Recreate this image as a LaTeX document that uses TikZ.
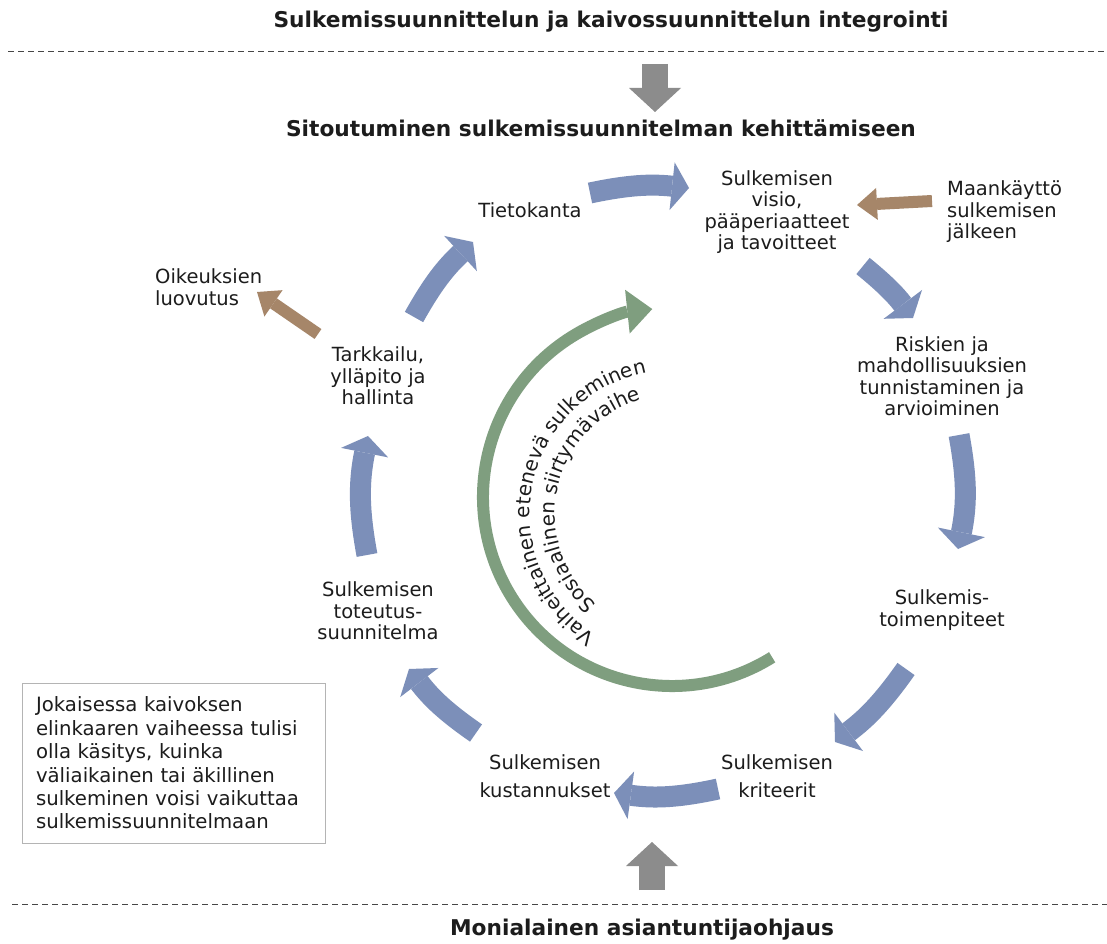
\documentclass[tikz,border=0pt]{standalone}
\usepackage{fontspec}
\setmainfont{DejaVu Sans}
\usetikzlibrary{arrows.meta,decorations.text}

\definecolor{txt}{RGB}{28,28,28}
\definecolor{cycblue}{RGB}{124,143,185}
\definecolor{sidebrown}{RGB}{166,134,105}
\definecolor{phasegreen}{RGB}{127,158,127}
\definecolor{feedgray}{RGB}{140,140,140}
\definecolor{boxgray}{RGB}{180,180,180}
\definecolor{sepgray}{RGB}{70,70,70}

\newcommand\lblfont{\fontsize{19.5}{21.5}\selectfont}
\newcommand\lblwide{\fontsize{19.5}{28.5}\selectfont}
\newcommand\notefont{\fontsize{19.7}{23.4}\selectfont}
\newcommand\hdfont{\fontsize{21.7}{26}\selectfont\bfseries}
\newcommand\arcfont{\fontsize{20}{24}\selectfont}

\begin{document}
\begin{tikzpicture}[x=1pt,y=1pt,
    lbl/.style={align=center, font=\lblfont, text=txt, inner sep=0pt},
    hd/.style={font=\hdfont, text=txt, inner sep=0pt},
    blk/.style={draw=cycblue, line width=21pt, -{Triangle[length=17pt,width=48pt,line width=0pt]}},
    side/.style={draw=sidebrown, line width=12pt, -{Triangle[length=20pt,width=32pt,line width=0pt]}},
    feed/.style={draw=feedgray, line width=26pt, -{Triangle[length=24pt,width=52pt,line width=0pt]}},
    phase/.style={draw=phasegreen, line width=12pt, -{Triangle[length=25pt,width=44pt,line width=0pt]}},
    sepline/.style={draw=sepgray, line width=1pt, dash pattern=on 6pt off 4pt},
    notebox/.style={draw=boxgray, line width=1pt, align=left, font=\notefont, text=txt,
        minimum width=303pt, minimum height=160pt, text width=275pt, inner sep=0pt}]

    \fill[white] (0,0) rectangle (1107,943);
    \useasboundingbox (0,0) rectangle (1107,943);

    % headings and dividers
    \node[hd] (integ) at (611,921) {Sulkemissuunnittelun ja kaivossuunnittelun integrointi};
    \node[hd] (sitout) at (601,815) {Sitoutuminen sulkemissuunnitelman kehittämiseen};
    \node[hd] (monial) at (642,13) {Monialainen asiantuntijaohjaus};
    \draw[sepline] (8,891) -- (1107,891);
    \draw[sepline] (12,39) -- (1107,39);

    % cycle
    \node[lbl] (tieto) at (530,733) {Tietokanta};
    \node[lbl] (visio) at (777,731) {Sulkemisen\\visio,\\pääperiaatteet\\ja tavoitteet};
    \node[lbl, align=left, anchor=west] (maank) at (947,731) {Maankäyttö\\sulkemisen\\jälkeen};
    \node[lbl] (riskit) at (942,567) {Riskien ja\\mahdollisuuksien\\tunnistaminen ja\\arvioiminen};
    \node[lbl] (toimen) at (942,333) {Sulkemis-\\toimenpiteet};
    \node[lbl, font=\lblwide] (krit) at (777,167) {Sulkemisen\\kriteerit};
    \node[lbl, font=\lblwide] (kust) at (545,167) {Sulkemisen\\kustannukset};
    \node[lbl] (toteut) at (378,332) {Sulkemisen\\toteutus-\\suunnitelma};
    \node[lbl] (tark) at (378,567) {Tarkkailu,\\ylläpito ja\\hallinta};
    \node[lbl, align=left, anchor=west] (oikeus) at (155,656) {Oikeuksien\\luovutus};

    \node[notebox] (note) at (173.5,180) {Jokaisessa kaivoksen\\elinkaaren vaiheessa tulisi\\olla käsitys, kuinka\\väliaikainen tai äkillinen\\sulkeminen voisi vaikuttaa\\sulkemissuunnitelmaan};

    % arrow ends
    \coordinate (tieto-o) at (590,750);
    \coordinate (visio-i) at (689,755);
    \coordinate (visio-o) at (863,677);
    \coordinate (riskit-i) at (913,625);
    \coordinate (riskit-o) at (959,508);
    \coordinate (toimen-i) at (958,394);
    \coordinate (toimen-o) at (906,274);
    \coordinate (krit-i) at (835,201);
    \coordinate (krit-o) at (718,154);
    \coordinate (kust-i) at (614,150);
    \coordinate (kust-o) at (476,210);
    \coordinate (toteut-i) at (409,274);
    \coordinate (toteut-o) at (367,388);
    \coordinate (tark-i) at (368,507);
    \coordinate (tark-o) at (414,626);
    \coordinate (tieto-i) at (473,701);
    \coordinate (maank-o) at (932,742);
    \coordinate (visio-s) at (857,738);
    \coordinate (tark-s) at (318,609);
    \coordinate (oikeus-i) at (257,651);
    \coordinate (integ-o) at (655,879);
    \coordinate (sitout-i) at (655,831);
    \coordinate (monial-o) at (652,53);
    \coordinate (kust-b) at (652,101);

    \draw[blk] (tieto-o) to[bend left=9] (visio-i);
    \draw[blk] (visio-o) to[bend left=7] (riskit-i);
    \draw[blk] (riskit-o) to[bend left=11] (toimen-i);
    \draw[blk] (toimen-o) to[bend left=9] (krit-i);
    \draw[blk] (krit-o) to[bend left=10] (kust-i);
    \draw[blk] (kust-o) to[bend left=9] (toteut-i);
    \draw[blk] (toteut-o) to[bend left=11] (tark-i);
    \draw[blk] (tark-o) to[bend left=9] (tieto-i);

    \draw[side] (maank-o) -- (visio-s);
    \draw[side] (tark-s) -- (oikeus-i);
    \draw[feed] (integ-o) -- (sitout-i);
    \draw[feed] (monial-o) -- (kust-b);

    % phased closure arc
    \coordinate (gc) at (672,446);
    \coordinate (tc) at (674,429);
    \draw[phase] ([shift={(-58:189)}]gc) arc[start angle=-58, end angle=-264, radius=189];
    \path[decorate, decoration={text along path, text align=center, text color=txt,
        text={|\arcfont|Vaiheittainen etenevä sulkeminen}}]
        ([shift={(-101:144)}]tc) arc[start angle=-101, end angle=-281, radius=144];
    \path[decorate, decoration={text along path, text align=center, text color=txt,
        text={|\arcfont|Sosiaalinen siirtymävaihe}}]
        ([shift={(-102:119)}]tc) arc[start angle=-102, end angle=-283, radius=119];
\end{tikzpicture}
\end{document}
